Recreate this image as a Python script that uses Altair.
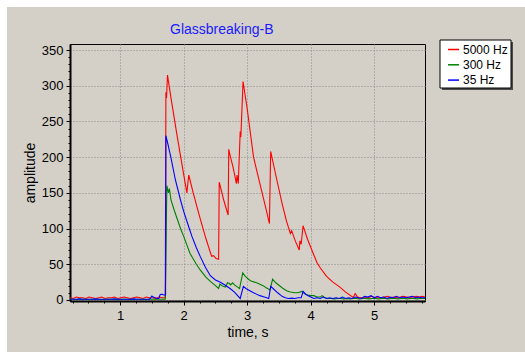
import altair as alt
import pandas as pd

series_names = ["5000 Hz", "300 Hz", "35 Hz"]
series_colors = ["#ff0000", "#008000", "#0000ff"]

base_t = [0.21, 0.26, 0.31, 0.36, 0.41, 0.46, 0.51, 0.56, 0.61, 0.66, 0.71, 0.76, 0.81, 0.86, 0.91,
          0.96, 1.01, 1.06, 1.11, 1.16, 1.21, 1.26, 1.31, 1.36, 1.41, 1.46, 1.51, 1.56, 1.61, 1.66, 1.71]

# 5000 Hz (red)
red_t = base_t + [
    1.72, 1.73, 1.745, 1.80, 1.90, 2.00, 2.05, 2.08, 2.15, 2.25,
    2.35, 2.44, 2.47, 2.51, 2.55, 2.56, 2.63, 2.70, 2.71, 2.73,
    2.78, 2.83, 2.84, 2.86, 2.89, 2.90, 2.935, 3.00, 3.10, 3.20,
    3.30, 3.35, 3.37, 3.45, 3.55, 3.62, 3.68, 3.70, 3.76, 3.82,
    3.83, 3.85, 3.88, 3.95, 4.04, 4.10, 4.15, 4.25, 4.35, 4.46,
    4.55, 4.67, 4.70, 4.73, 4.76,
    4.81, 4.86, 4.91, 4.96, 5.01, 5.06, 5.11, 5.16, 5.21, 5.26,
    5.31, 5.36, 5.41, 5.46, 5.51, 5.56, 5.61, 5.66, 5.71, 5.76, 5.80]
red_v = [3, 2, 4, 3, 3, 2, 4, 3, 2, 3, 4, 2, 3, 3, 4, 2, 3, 4, 3, 2, 3, 4, 3, 2, 4, 3, 3, 2, 4, 3, 3] + [
    291, 283, 315, 283, 228, 176, 150, 175, 150, 117,
    86, 61, 62, 58, 57, 165, 140, 119, 211, 203,
    185, 163, 175, 163, 236, 228, 306, 268, 200, 163,
    126, 107, 208, 175, 135, 110, 93, 97, 82, 70,
    83, 78, 104, 85, 65, 52, 45, 33, 25, 18,
    11, 3.5, 9, 5, 3,
    3, 4, 3, 5, 3, 4, 3, 4, 5, 3,
    4, 3, 4, 5, 4, 3, 4, 5, 4, 5, 4]

# 300 Hz (green)
green_t = base_t + [
    1.735, 1.76, 1.775, 1.80, 1.85, 1.90, 1.95, 2.00, 2.10, 2.20,
    2.26, 2.35, 2.42, 2.50, 2.55, 2.57, 2.62, 2.66, 2.69, 2.72,
    2.74, 2.77, 2.80, 2.85, 2.88, 2.93, 2.97, 3.05, 3.15, 3.25,
    3.30, 3.36, 3.40, 3.45, 3.55, 3.62, 3.68, 3.75, 3.80, 3.86,
    3.90, 3.95, 4.00, 4.05, 4.10, 4.15, 4.18, 4.22, 4.27,
    4.32, 4.37, 4.42, 4.47, 4.52, 4.57, 4.62, 4.67, 4.72, 4.77,
    4.82, 4.87, 4.92, 4.97, 5.02, 5.07, 5.12, 5.17, 5.22, 5.27,
    5.32, 5.37, 5.42, 5.47, 5.52, 5.57, 5.62, 5.67, 5.72, 5.77, 5.80]
green_v = [1, 1, 0.5, 1, 1, 1, 0.5, 1, 1, 1, 0.5, 1, 1, 1, 1, 0.5, 1, 1, 1, 0.5, 1, 1, 1, 1, 0.5, 1, 1, 1, 1, 1, 1] + [
    160, 150, 156, 140, 126, 113, 100, 89, 65, 50,
    42, 32, 26, 20, 16, 22, 19, 18, 24, 23,
    21, 24, 21, 18, 16, 38, 33, 27, 24, 20,
    17, 14, 29, 24, 17, 13, 11, 10, 10, 12,
    9, 7, 6, 6, 4, 4, 6, 3, 2,
    2, 1.5, 2, 2, 1.5, 2, 1.5, 2, 2, 1.5,
    2, 2, 1.5, 2, 2, 1.5, 2, 2, 1.5, 2,
    2, 1.5, 2, 2, 1.5, 2, 2, 1.5, 2, 2, 2]

# 35 Hz (blue)
blue_t = base_t[:26] + [
    1.48, 1.50, 1.52, 1.55, 1.58, 1.61, 1.63, 1.66, 1.69, 1.715,
    1.72, 1.75, 1.80, 1.87, 1.95, 2.00, 2.07, 2.13, 2.20, 2.26,
    2.34, 2.42, 2.50, 2.57, 2.65, 2.73, 2.80, 2.85, 2.89, 2.94,
    2.98, 3.02, 3.10, 3.20, 3.27, 3.34, 3.37, 3.42, 3.48, 3.55,
    3.60, 3.65, 3.70, 3.75, 3.80, 3.85, 3.88, 3.92, 3.96, 4.00,
    4.05, 4.10, 4.15, 4.20, 4.25, 4.30, 4.35, 4.40, 4.45, 4.50,
    4.55, 4.60, 4.65, 4.70, 4.75, 4.80, 4.85, 4.90, 4.95, 5.00,
    5.05, 5.10, 5.15, 5.20, 5.25, 5.30, 5.35, 5.40, 5.45, 5.50,
    5.55, 5.60, 5.65, 5.70, 5.75, 5.80]
blue_v = [1, 1, 1, 1.5, 1, 1, 1, 1, 1.5, 1, 1, 1, 1, 1, 1.5, 1, 1, 1, 1, 1, 1.5, 1, 1, 1, 1, 1] + [
    3, 5.5, 4, 3, 2, 2, 7.5, 8, 7, 7,
    230, 219, 199, 168, 140, 124, 105, 89, 73, 61,
    46, 34, 28, 25, 21, 16, 11, 6, 2, 19,
    16, 14, 10, 6, 4, 2, 19, 15, 10, 5,
    3, 2, 2.5, 2, 3, 3, 12, 8, 6, 4,
    2, 3, 2, 4, 2, 3, 2, 3, 2, 4,
    2, 3, 2, 4, 3, 2, 5, 4, 6, 3,
    5, 3, 4, 2, 4, 3, 5, 3, 4, 3,
    4, 5, 3, 4, 3, 3]

x_ticks = [0.25, 0.5, 0.75, 1, 1.25, 1.5, 1.75, 2, 2.25, 2.5, 2.75, 3, 3.25, 3.5, 3.75,
           4, 4.25, 4.5, 4.75, 5, 5.25, 5.5, 5.75]
y_ticks = list(range(0, 360, 10))

rows = []
for name, ts, vs in [(series_names[0], red_t, red_v), (series_names[1], green_t, green_v),
                     (series_names[2], blue_t, blue_v)]:
    for t, v in zip(ts, vs):
        rows.append({"series": name, "t": t, "v": v})
df = pd.DataFrame(rows)

FONT = "Liberation Sans"
GRAY = "#d4d0c8"

one = pd.DataFrame({"a": [0]})

strip_top = alt.Chart(one).mark_rect(color="white").encode(
    x=alt.value(-70), x2=alt.value(455), y=alt.value(-44), y2=alt.value(-37))
strip_left = alt.Chart(one).mark_rect(color="white").encode(
    x=alt.value(-70), x2=alt.value(-63), y=alt.value(-44), y2=alt.value(308))
shadow = alt.Chart(one).mark_rect(color="#4a4a4a").encode(
    x=alt.value(372), x2=alt.value(443), y=alt.value(-2), y2=alt.value(46))
box = alt.Chart(one).mark_rect(color="white", stroke="black", strokeWidth=1).encode(
    x=alt.value(370), x2=alt.value(441), y=alt.value(-4), y2=alt.value(44))

lines = alt.Chart(df).mark_line(strokeWidth=1.1, clip=True).encode(
    x=alt.X("t:Q", scale=alt.Scale(domain=[0.21, 5.8], nice=False, zero=False),
            axis=alt.Axis(
                values=x_ticks,
                labelExpr="datum.value % 1 == 0 ? '' + datum.value : ''",
                labelOverlap=False, labelFlush=False,
                tickSize={"condition": {"test": "datum.value % 1 == 0", "value": 4}, "value": 2},
                gridOpacity={"condition": {"test": "datum.value % 1 == 0", "value": 1}, "value": 0},
                grid=True, gridDash=[1, 2], gridColor="#8a8a8a", gridWidth=1,
                domainColor="black", domainWidth=2, tickColor="black",
                labelFont=FONT, labelFontSize=13, labelColor="black", labelPadding=4,
                title="time, s", titleFont=FONT, titleFontSize=14, titleFontWeight="normal",
                titleColor="black", titlePadding=3)),
    y=alt.Y("v:Q", scale=alt.Scale(domain=[-1.5, 358.5], nice=False, zero=False),
            axis=alt.Axis(
                values=y_ticks,
                labelExpr="datum.value % 50 == 0 ? '' + datum.value : ''",
                labelOverlap=False, labelFlush=False,
                tickSize={"condition": {"test": "datum.value % 50 == 0", "value": 4}, "value": 2},
                gridOpacity={"condition": {"test": "datum.value % 50 == 0", "value": 1}, "value": 0},
                grid=True, gridDash=[1, 2], gridColor="#8a8a8a", gridWidth=1,
                domainColor="black", domainWidth=2, tickColor="black",
                labelFont=FONT, labelFontSize=13, labelColor="black", labelPadding=3,
                title="amplitude", titleFont=FONT, titleFontSize=14, titleFontWeight="normal",
                titleColor="black", titlePadding=4)),
    color=alt.Color("series:N", sort=series_names,
                    scale=alt.Scale(domain=series_names, range=series_colors),
                    legend=alt.Legend(orient="none", legendX=377, legendY=-1, padding=0,
                                      title=None, symbolType="stroke", symbolSize=121,
                                      symbolStrokeWidth=1.5, labelFont=FONT, labelFontSize=12,
                                      labelColor="black", labelOffset=3, rowPadding=2.3)),
)

chart = alt.layer(strip_top, strip_left, shadow, box, lines).properties(
    width=355, height=257,
    title=alt.TitleParams("Glassbreaking-B", color="#1a1aff", font=FONT, fontSize=14,
                          fontWeight="normal", anchor="start", frame="group", dx=100,
                          offset=0, dy=37),
    autosize=alt.AutoSizeParams(type="none"),
    padding={"left": 70, "top": 44, "right": 100, "bottom": 51},
).configure(background=GRAY).configure_view(stroke="black", strokeWidth=1)

chart.save("out.html", embed_options={"renderer": "svg", "actions": False})
